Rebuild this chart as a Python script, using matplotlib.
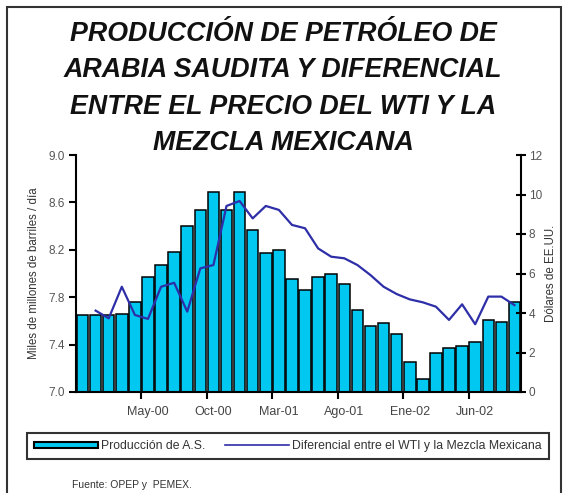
import matplotlib
matplotlib.use("Agg")
import matplotlib.pyplot as plt
from matplotlib.patches import Rectangle
from matplotlib.lines import Line2D
import numpy as np

plt.rcParams['font.family'] = ['Liberation Sans', 'DejaVu Sans']

# meses de Dic-99 a Sep-02
meses = ["Dic-99", "Ene-00", "Feb-00", "Mar-00", "Abr-00", "May-00", "Jun-00", "Jul-00",
         "Ago-00", "Sep-00", "Oct-00", "Nov-00", "Dic-00", "Ene-01", "Feb-01", "Mar-01",
         "Abr-01", "May-01", "Jun-01", "Jul-01", "Ago-01", "Sep-01", "Oct-01", "Nov-01",
         "Dic-01", "Ene-02", "Feb-02", "Mar-02", "Abr-02", "May-02", "Jun-02", "Jul-02",
         "Ago-02", "Sep-02"]

# produccion de Arabia Saudita (miles de millones de barriles / dia)
produccion = [7.65, 7.65, 7.65, 7.66, 7.76, 7.97, 8.07, 8.18, 8.40, 8.54, 8.69, 8.54,
              8.69, 8.37, 8.17, 8.20, 7.95, 7.86, 7.97, 8.00, 7.91, 7.69, 7.56, 7.58,
              7.49, 7.25, 7.11, 7.33, 7.37, 7.39, 7.42, 7.61, 7.59, 7.76]

# diferencial WTI - mezcla mexicana (dolares), de Ene-00 a Sep-02
diferencial = [4.12, 3.73, 5.33, 3.90, 3.70, 5.33, 5.53, 4.07, 6.26, 6.43, 9.42, 9.67,
               8.79, 9.42, 9.22, 8.46, 8.29, 7.27, 6.85, 6.77, 6.43, 5.92, 5.33, 4.96,
               4.69, 4.54, 4.32, 3.65, 4.44, 3.43, 4.83, 4.83, 4.40]

etiquetas_idx = [5, 10, 15, 20, 25, 30]

fig = plt.figure(figsize=(5.66, 4.93), dpi=100)
ax = fig.add_axes([76/566, 1-392/493, (521-76)/566, (392-155)/493])

x = np.arange(len(produccion))
bar_color = '#00c8f0'
ax.bar(x, produccion, width=0.88, bottom=0, color=bar_color, edgecolor='black', linewidth=1.1, zorder=2)
ax.set_ylim(7.0, 9.0)
ax.set_xlim(-0.5, len(produccion) - 0.5)
ax.set_yticks([7.0, 7.4, 7.8, 8.2, 8.6, 9.0])
ax.set_yticklabels(["7.0", "7.4", "7.8", "8.2", "8.6", "9.0"])
ax.set_xticks([i - 0.5 for i in etiquetas_idx])
ax.set_xticklabels([])
ax.set_xticks(etiquetas_idx, minor=True)
ax.set_xticklabels([meses[i] for i in etiquetas_idx], minor=True)
ax.tick_params(axis='x', which='minor', length=0, pad=10, labelsize=9, labelcolor='#444444')
ax.tick_params(axis='x', which='major', length=5, width=1.5, direction='out')
ax.tick_params(axis='y', length=5, width=1.5, direction='out', labelsize=8.5, labelcolor='#555555', pad=3)
for s in ['top', 'right']:
    ax.spines[s].set_visible(False)
ax.spines['left'].set_linewidth(1.5)
ax.spines['bottom'].set_linewidth(1.5)
ax.set_ylabel("Miles de millones de barriles / día", fontsize=8.3, color='#333333', labelpad=6)

ax2 = ax.twinx()
ax2.plot(x[1:], diferencial, color='#2e2ea8', linewidth=1.6, zorder=3)
ax2.set_ylim(0, 12)
ax2.set_yticks(range(0, 13, 2))
ax2.tick_params(axis='y', length=7, width=1.5, direction='inout', labelsize=8.5, labelcolor='#555555', pad=2)
for s in ['top', 'left', 'bottom']:
    ax2.spines[s].set_visible(False)
ax2.spines['right'].set_linewidth(1.5)
ax2.set_ylabel("Dólares de EE.UU.", fontsize=8.3, color='#333333', labelpad=2)

# titulo
titulo = ["PRODUCCIÓN DE PETRÓLEO DE", "ARABIA SAUDITA Y DIFERENCIAL",
          "ENTRE EL PRECIO DEL WTI Y LA", "MEZCLA MEXICANA"]
for k, linea in enumerate(titulo):
    fig.text(0.5, 1 - (34 + 36.3 * k) / 493, linea, ha='center', va='center',
             fontsize=19.3, fontweight='bold', fontstyle='italic', color='#111111')

# marco exterior
fig.patches.append(Rectangle((7/566, -0.01), (561-7)/566, 1 - 7/493 + 0.01, transform=fig.transFigure,
                             fill=False, edgecolor='#333333', linewidth=1.5))

# leyenda
handles = [Rectangle((0, 0), 1, 1, facecolor=bar_color, edgecolor='black', linewidth=1.5),
           Line2D([0], [0], color='#2e2ea8', linewidth=1.2)]
leg = fig.legend(handles, ["Producción de A.S.", "Diferencial entre el WTI y la Mezcla Mexicana"],
                 loc='center', bbox_to_anchor=(288/566, 1 - 446/493), ncol=2, fontsize=8.8,
                 frameon=True, fancybox=False, edgecolor='black', handlelength=5.2,
                 handleheight=0.35, columnspacing=1.6, handletextpad=0.3, borderpad=0.6)
leg.get_frame().set_linewidth(1.5)
for t in leg.get_texts():
    t.set_color('#333333')

fig.text(72/566, 1 - 485/493, "Fuente: OPEP y  PEMEX.", fontsize=7.5, color='#333333', va='center')

fig.savefig("out.png", dpi=100)
